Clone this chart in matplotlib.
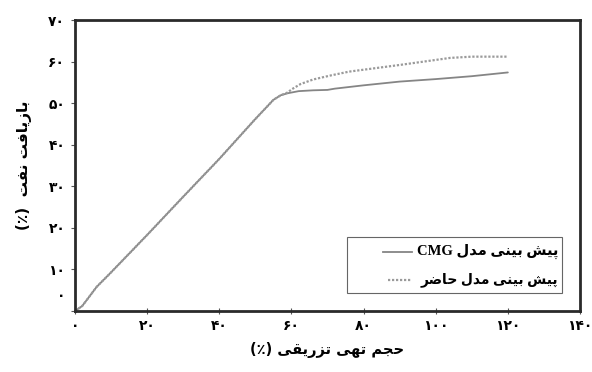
import matplotlib
matplotlib.use('Agg')
import matplotlib.pyplot as plt
from matplotlib.lines import Line2D
from matplotlib.patches import Rectangle
from matplotlib.transforms import ScaledTranslation

# --- داده ها ---
pv_injected = [0, 2, 4, 6, 10, 20, 30, 40, 50, 55, 57]
recovery_common = [0, 1.2, 3.5, 5.8, 9.3, 18.3, 27.5, 36.6, 46.2, 50.8, 51.9]

pv_cmg = [59, 62, 66, 70, 72, 80, 90, 100, 110, 120]
recovery_cmg = [52.4, 52.9, 53.1, 53.2, 53.5, 54.3, 55.2, 55.8, 56.5, 57.4]

pv_model = [59, 60, 62.5, 66, 71, 76, 90, 104, 110, 120]
recovery_model = [52.6, 53.3, 54.6, 55.7, 56.7, 57.6, 59.2, 60.9, 61.2, 61.2]

x_ticks = [0, 20, 40, 60, 80, 100, 120, 140]
y_ticks = [0, 10, 20, 30, 40, 50, 60, 70]

label_cmg = 'پیش بینی مدل'
label_model = 'پیش بینی مدل حاضر'
x_title = 'حجم تهی تزریقی (٪)'
y_title = 'بازیافت نفت  (٪)'

# --- شکل دهی حروف فارسی (matplotlib خودش اتصال حروف را انجام نمی دهد) ---
FORMS = {
    'ا': ('\uFE8D', '\uFE8E', None, None),
    'ب': ('\uFE8F', '\uFE90', '\uFE91', '\uFE92'),
    'پ': ('\uFB56', '\uFB57', '\uFB58', '\uFB59'),
    'ت': ('\uFE95', '\uFE96', '\uFE97', '\uFE98'),
    'ج': ('\uFE9D', '\uFE9E', '\uFE9F', '\uFEA0'),
    'ح': ('\uFEA1', '\uFEA2', '\uFEA3', '\uFEA4'),
    'د': ('\uFEA9', '\uFEAA', None, None),
    'ر': ('\uFEAD', '\uFEAE', None, None),
    'ز': ('\uFEAF', '\uFEB0', None, None),
    'ش': ('\uFEB5', '\uFEB6', '\uFEB7', '\uFEB8'),
    'ض': ('\uFEBD', '\uFEBE', '\uFEBF', '\uFEC0'),
    'ف': ('\uFED1', '\uFED2', '\uFED3', '\uFED4'),
    'ق': ('\uFED5', '\uFED6', '\uFED7', '\uFED8'),
    'ل': ('\uFEDD', '\uFEDE', '\uFEDF', '\uFEE0'),
    'م': ('\uFEE1', '\uFEE2', '\uFEE3', '\uFEE4'),
    'ن': ('\uFEE5', '\uFEE6', '\uFEE7', '\uFEE8'),
    'ه': ('\uFEE9', '\uFEEA', '\uFEEB', '\uFEEC'),
    'ی': ('\uFBFC', '\uFBFD', '\uFBFE', '\uFBFF'),
}
MIRROR = {'(': ')', ')': '('}


def joins_next(ch):
    return ch in FORMS and FORMS[ch][2] is not None


def fa(text):
    out = []
    for i, ch in enumerate(text):
        if ch not in FORMS:
            out.append(ch)
            continue
        prev = text[i - 1] if i > 0 else ''
        nxt = text[i + 1] if i + 1 < len(text) else ''
        a = joins_next(prev)
        b = joins_next(ch) and nxt in FORMS
        iso, fin, ini, med = FORMS[ch]
        if a and b:
            out.append(med)
        elif a:
            out.append(fin)
        elif b:
            out.append(ini)
        else:
            out.append(iso)
    return ''.join(MIRROR.get(c, c) for c in reversed(out))


def fa_digits(n):
    return str(n).translate(str.maketrans('0123456789', '۰۱۲۳۴۵۶۷۸۹'))


plt.rcParams['font.family'] = ['DejaVu Sans']
plt.rcParams['font.weight'] = 'bold'

fig = plt.figure(figsize=(5.92, 3.72), dpi=100)
ax = fig.add_axes([0.1267, 0.164, 0.853, 0.782])

c_solid = '#858585'
c_dot = '#9a9a9a'
ax.plot(pv_injected + pv_cmg, recovery_common + recovery_cmg,
        color=c_solid, lw=1.3, solid_capstyle='round')
ax.plot(pv_injected + pv_model, recovery_common + recovery_model,
        color=c_dot, lw=1.6, linestyle=(0, (1, 0.8)))

ax.set_xlim(0, 140)
ax.set_ylim(0, 70)
ax.set_xticks(x_ticks)
ax.set_yticks(y_ticks)
ax.set_xticklabels([fa_digits(v) for v in x_ticks], fontsize=10, fontweight='bold')
ax.set_yticklabels([fa_digits(v) for v in y_ticks], fontsize=10, fontweight='bold')
ax.tick_params(axis='x', direction='inout', length=5, width=0.8, pad=3, color='#555555')
ax.tick_params(axis='y', direction='out', length=3, width=0.8, pad=4, color='#555555')

# برچسب صفر محور عمودی کمی بالاتر
lbl0 = ax.get_yticklabels()[0]
lbl0.set_transform(lbl0.get_transform() + ScaledTranslation(0, 12 / 72, fig.dpi_scale_trans))

for side in ax.spines.values():
    side.set_linewidth(2.0)
    side.set_color('#2a2a2a')

ax.set_xlabel(fa(x_title), fontsize=10.5, fontweight='bold', labelpad=7)
ax.set_ylabel(fa(y_title), fontsize=11, fontweight='bold', labelpad=12)

# راهنما: کادر، نمونه خط ها و متن ها
ax.add_patch(Rectangle((0.539, 0.062), 0.426, 0.192, transform=ax.transAxes,
                       facecolor='white', edgecolor='#666666', lw=0.8, zorder=5))
leg_font = ['Liberation Serif', 'DejaVu Sans']
ax.add_line(Line2D([0.610, 0.667], [0.204, 0.204], transform=ax.transAxes,
                   color=c_solid, lw=1.3, zorder=6))
ax.add_line(Line2D([0.620, 0.667], [0.107, 0.107], transform=ax.transAxes,
                   color=c_dot, lw=1.6, linestyle=(0, (1, 0.8)), zorder=6))
ax.text(0.678, 0.204, 'CMG ' + fa(label_cmg), transform=ax.transAxes,
        family=leg_font, fontsize=10.5, fontweight='bold', va='center', ha='left', zorder=7)
ax.text(0.684, 0.107, fa(label_model), transform=ax.transAxes,
        family=leg_font, fontsize=10, fontweight='bold', va='center', ha='left', zorder=7)

fig.savefig('out.png', dpi=100, facecolor='white')
